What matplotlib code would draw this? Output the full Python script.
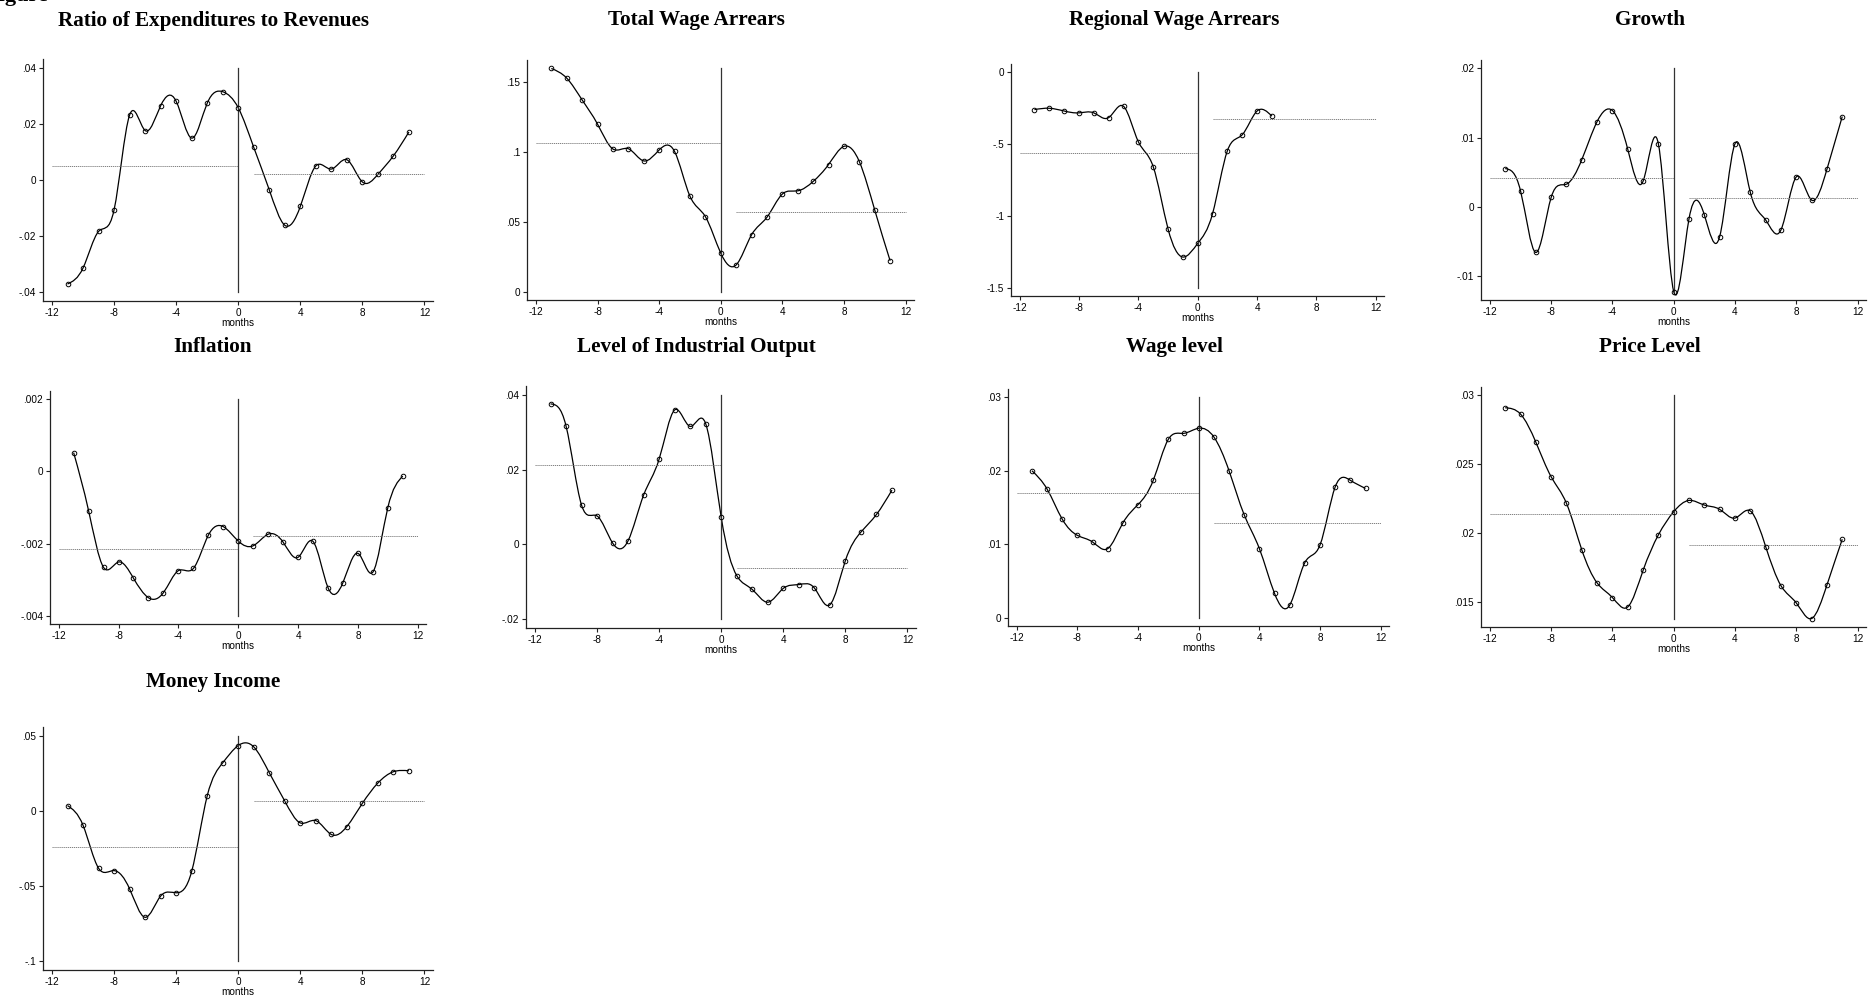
import numpy as np
import matplotlib
matplotlib.use('Agg')
import matplotlib.pyplot as plt
from matplotlib.path import Path
from matplotlib.patches import PathPatch

## datos (meses relativos al evento)
months = list(range(-11, 12))
months_regional = list(range(-11, 6))

titles = ['Ratio of Expenditures to Revenues', 'Total Wage Arrears',
          'Regional Wage Arrears', 'Growth', 'Inflation',
          'Level of Industrial Output', 'Wage level', 'Price Level',
          'Money Income']

ratio_exp_rev = [-0.0370, -0.0313, -0.0183, -0.0106, 0.0231, 0.0176, 0.0264,
                 0.0280, 0.0149, 0.0273, 0.0314, 0.0257, 0.0116, -0.0035,
                 -0.0161, -0.0094, 0.0050, 0.0039, 0.0072, -0.0007, 0.0020,
                 0.0086, 0.0171]
total_arrears = [0.1595, 0.1526, 0.1370, 0.1197, 0.1019, 0.1021, 0.0934,
                 0.1012, 0.1002, 0.0682, 0.0536, 0.0275, 0.0190, 0.0405,
                 0.0531, 0.0697, 0.0720, 0.0787, 0.0908, 0.1038, 0.0929,
                 0.0583, 0.0220]
regional_arrears = [-0.260, -0.251, -0.270, -0.283, -0.283, -0.316, -0.237,
                    -0.484, -0.657, -1.090, -1.286, -1.191, -0.984, -0.546,
                    -0.435, -0.270, -0.306]
growth = [0.00555, 0.00234, -0.00656, 0.00139, 0.00330, 0.00684, 0.01234,
          0.01392, 0.00833, 0.00373, 0.00909, -0.01220, -0.00167, -0.00115,
          -0.00426, 0.00914, 0.00211, -0.00187, -0.00330, 0.00435, 0.00100,
          0.00545, 0.01306]
inflation = [0.00052, -0.00109, -0.00266, -0.00251, -0.00296, -0.00350,
             -0.00336, -0.00275, -0.00269, -0.00177, -0.00153, -0.00193,
             -0.00206, -0.00174, -0.00196, -0.00238, -0.00194, -0.00322,
             -0.00308, -0.00227, -0.00279, -0.00100, -0.00013]
industrial = [0.0375, 0.0316, 0.0105, 0.0076, 0.0004, 0.0010, 0.0132, 0.0228,
              0.0359, 0.0315, 0.0322, 0.0072, -0.0083, -0.0120, -0.0154,
              -0.0117, -0.0107, -0.0116, -0.0161, -0.0043, 0.0033, 0.0080,
              0.0145]
wage_level = [0.0200, 0.0175, 0.0134, 0.0112, 0.0103, 0.0094, 0.0129, 0.0154,
              0.0187, 0.0243, 0.0251, 0.0258, 0.0246, 0.0200, 0.0140, 0.0094,
              0.0033, 0.0017, 0.0075, 0.0099, 0.0178, 0.0187, 0.0176]
price_level = [0.02911, 0.02865, 0.02661, 0.02410, 0.02217, 0.01880, 0.01640,
               0.01534, 0.01466, 0.01731, 0.01989, 0.02157, 0.02239, 0.02205,
               0.02174, 0.02111, 0.02162, 0.01904, 0.01620, 0.01495, 0.01382,
               0.01625, 0.01957]
money_income = [0.0035, -0.0096, -0.0381, -0.0397, -0.0518, -0.0707, -0.0566,
                -0.0544, -0.0402, 0.0099, 0.0319, 0.0434, 0.0425, 0.0253,
                0.0065, -0.0080, -0.0065, -0.0157, -0.0104, 0.0050, 0.0185,
                0.0260, 0.0266]

# medias antes / despues (lineas punteadas)
pre_means = [0.0051, 0.1064, -0.565, 0.00426, -0.00216, 0.0211, 0.0170, 0.0214, -0.0239]
post_means = [0.0021, 0.0566, -0.327, 0.00134, -0.00179, -0.0062, 0.0129, 0.01914, 0.0068]

yticks = [[-0.04, -0.02, 0, 0.02, 0.04], [0, 0.05, 0.1, 0.15],
          [-1.5, -1, -0.5, 0], [-0.01, 0, 0.01, 0.02],
          [-0.004, -0.002, 0, 0.002], [-0.02, 0, 0.02, 0.04],
          [0, 0.01, 0.02, 0.03], [0.015, 0.02, 0.025, 0.03],
          [-0.1, -0.05, 0, 0.05]]
yticklabels = [['-.04', '-.02', '0', '.02', '.04'], ['0', '.05', '.1', '.15'],
               ['-1.5', '-1', '-.5', '0'], ['-.01', '0', '.01', '.02'],
               ['-.004', '-.002', '0', '.002'], ['-.02', '0', '.02', '.04'],
               ['0', '.01', '.02', '.03'], ['.015', '.02', '.025', '.03'],
               ['-.1', '-.05', '0', '.05']]
xticks = [-12, -8, -4, 0, 4, 8, 12]

series = [ratio_exp_rev, total_arrears, regional_arrears, growth, inflation,
          industrial, wage_level, price_level, money_income]
xs = [months, months, months_regional, months, months, months, months,
      months, months]

# cajas de los ejes en pixeles (izq, arriba, der, abajo)
W, H = 1868, 997
boxes = [(43, 59, 433, 301), (527, 60, 914, 300), (1011, 64, 1384, 296),
         (1481, 60, 1866, 300), (50, 391, 426, 624), (526, 386, 916, 628),
         (1008, 389, 1389, 626), (1481, 387, 1866, 627), (43, 727, 433, 970)]
title_pos = [(213.5, 21), (696.5, 20), (1174, 20), (1650, 20), (213, 347),
             (696.5, 347), (1174, 347), (1650, 347), (213.5, 682)]


def spline_patch(x, y):
    # spline cubico natural dibujado con curvas de bezier
    x = np.asarray(x, float)
    y = np.asarray(y, float)
    n = len(x)
    h = np.diff(x)
    A = np.zeros((n, n))
    r = np.zeros(n)
    A[0, 0] = A[-1, -1] = 1
    for i in range(1, n - 1):
        A[i, i - 1] = h[i - 1]
        A[i, i] = 2 * (h[i - 1] + h[i])
        A[i, i + 1] = h[i]
        r[i] = 6 * ((y[i + 1] - y[i]) / h[i] - (y[i] - y[i - 1]) / h[i - 1])
    M = np.linalg.solve(A, r)
    verts = [(x[0], y[0])]
    codes = [Path.MOVETO]
    for i in range(n - 1):
        s = (y[i + 1] - y[i]) / h[i]
        d0 = s - h[i] * (2 * M[i] + M[i + 1]) / 6
        d1 = s + h[i] * (M[i] + 2 * M[i + 1]) / 6
        verts += [(x[i] + h[i] / 3, y[i] + d0 * h[i] / 3),
                  (x[i + 1] - h[i] / 3, y[i + 1] - d1 * h[i] / 3),
                  (x[i + 1], y[i + 1])]
        codes += [Path.CURVE4] * 3
    return PathPatch(Path(verts, codes), fill=False, edgecolor='black', lw=0.9)


fig = plt.figure(figsize=(W / 100, H / 100), dpi=100)
# resto del titulo general, cortado arriba como en el original
fig.text(-14 / W, 1 - 0.5 / H, 'Figure', fontsize=16, fontweight='bold',
         family='Liberation Serif', va='baseline', ha='left')

for k in range(9):
    l, t, r, b = boxes[k]
    ax = fig.add_axes([l / W, 1 - b / H, (r - l) / W, (b - t) / H])
    x = xs[k]
    y = series[k]
    lo = min(min(yticks[k]), min(y))
    hi = max(max(yticks[k]), max(y))
    pad = 0.038 * (hi - lo)
    ax.set_ylim(lo - pad, hi + pad)
    ax.set_xlim(-12.58, 12.55)

    ax.plot([-12, 0], [pre_means[k]] * 2, color='#808080', lw=0.7, ls=(0, (1.2, 0.8)))
    ax.plot([1, 12], [post_means[k]] * 2, color='#808080', lw=0.7, ls=(0, (1.2, 0.8)))
    ax.plot([0, 0], [lo, hi], color='#333333', lw=0.9)
    ax.add_patch(spline_patch(x, y))
    ax.plot(x, y, 'o', mfc='none', mec='black', ms=3.3, mew=0.7)

    ax.set_yticks(yticks[k])
    ax.set_yticklabels(yticklabels[k])
    ax.set_xticks(xticks)
    ax.set_xticklabels([str(v) for v in xticks])
    for side in ['top', 'right']:
        ax.spines[side].set_visible(False)
    for side in ['left', 'bottom']:
        ax.spines[side].set_color('#222222')
        ax.spines[side].set_linewidth(0.9)
    ax.tick_params(direction='out', length=3, width=0.8, pad=2,
                   labelsize=7.2, colors='#222222', labelcolor='black')
    for lab in ax.get_xticklabels() + ax.get_yticklabels():
        lab.set_family('Liberation Sans')
    ax.set_xlabel('months', fontsize=7.2, family='Liberation Sans', labelpad=0)
    ax.patch.set_alpha(0)

    tx, ty = title_pos[k]
    fig.text(tx / W, 1 - ty / H, titles[k], ha='center', va='center',
             fontsize=15.2, fontweight='bold', family='Liberation Serif')

fig.savefig('out.png', dpi=100)
